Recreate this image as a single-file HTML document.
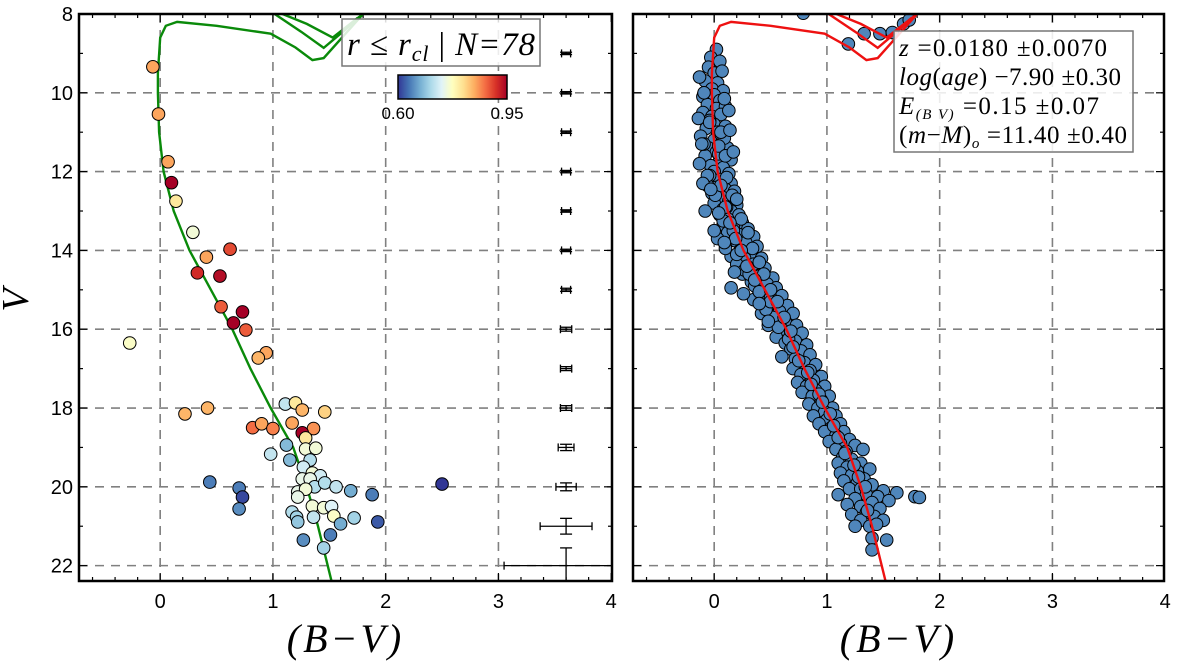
<!DOCTYPE html>
<html><head><meta charset="utf-8"><style>
body{margin:0;background:#fff}
svg{display:block}
text{font-family:"Liberation Sans",sans-serif}
.serif{font-family:"Liberation Serif",serif;font-style:italic}
</style></head><body>
<svg id="chart" width="1200" height="661" viewBox="0 0 1200 661" xmlns="http://www.w3.org/2000/svg">
<defs>
<linearGradient id="cbar" x1="0" x2="1" y1="0" y2="0">
<stop offset="0" stop-color="#313695"/><stop offset="0.1" stop-color="#4575b4"/><stop offset="0.2" stop-color="#74add1"/><stop offset="0.3" stop-color="#abd9e9"/><stop offset="0.4" stop-color="#e0f3f8"/><stop offset="0.5" stop-color="#ffffbf"/><stop offset="0.6" stop-color="#fee090"/><stop offset="0.7" stop-color="#fdae61"/><stop offset="0.8" stop-color="#f46d43"/><stop offset="0.9" stop-color="#d73027"/><stop offset="1" stop-color="#a50026"/>
</linearGradient>
<clipPath id="clipL"><rect x="79" y="14" width="533" height="567"/></clipPath>
<clipPath id="clipR"><rect x="633" y="14" width="531" height="567"/></clipPath>
</defs>
</svg>
<script>
// ---- data ----
const xTicks=[0,1,2,3,4];
const yTicks=[8,10,12,14,16,18,20,22];
const isoMainBV=[1.52,1.40,1.30,1.18,0.98,0.80,0.64,0.45,0.26,0.12,0.03,-0.01,-0.02,-0.02,0.0,0.05,0.15,0.5,0.98,1.2,1.35,1.45,1.8];
const isoMainV=[22.4,21,20,19,18,17,16,15,14,13,12,11,10,9.5,8.6,8.3,8.2,8.3,8.5,8.85,9.17,9.12,8.0];
const iso2BV=[0.71,1.0,1.25,1.45,1.64,1.75];
const iso2V=[7.9,7.97,8.45,8.86,8.4,8.1];
const iso3BV=[1.0,1.3,1.53,1.73,1.8];
const iso3V=[7.9,8.25,8.6,8.15,8.0];
const memBV=[-0.065,-0.015,0.07,0.10,0.14,0.29,0.62,0.41,0.33,0.53,0.54,0.73,0.65,0.76,-0.27,0.94,0.87,0.22,0.42,1.11,1.2,1.26,1.46,0.82,0.9,1.0,1.17,1.36,1.26,1.29,1.12,1.29,1.38,0.98,1.15,1.33,1.27,1.35,1.42,1.26,1.33,1.37,1.46,1.56,1.69,1.88,2.5,0.44,0.7,0.73,0.7,1.22,1.29,1.22,1.35,1.45,1.52,1.54,1.17,1.21,1.22,1.36,1.6,1.72,1.93,1.51,1.27,1.45];
const memV=[9.34,10.54,11.75,12.28,12.75,13.54,13.97,14.17,14.57,14.65,15.43,15.56,15.84,16.02,16.35,16.6,16.73,18.15,18.0,17.9,17.87,18.05,18.1,18.5,18.4,18.52,18.38,18.52,18.63,18.76,18.94,19.04,19.02,19.17,19.32,19.32,19.5,19.65,19.72,19.8,19.8,20.0,19.9,20.0,20.1,20.2,19.93,19.88,20.03,20.26,20.56,20.13,20.06,20.26,20.49,20.53,20.5,20.74,20.64,20.77,20.89,20.77,20.94,20.79,20.89,21.22,21.35,21.55];
const memProb=[0.85,0.85,0.85,0.95,0.80,0.76,0.90,0.85,0.92,0.94,0.89,0.95,0.95,0.89,0.77,0.85,0.84,0.84,0.84,0.72,0.80,0.84,0.82,0.88,0.85,0.87,0.85,0.86,0.95,0.80,0.68,0.76,0.76,0.72,0.68,0.71,0.73,0.76,0.73,0.75,0.75,0.71,0.71,0.72,0.67,0.64,0.60,0.64,0.64,0.61,0.65,0.75,0.76,0.75,0.76,0.76,0.74,0.77,0.71,0.70,0.69,0.72,0.67,0.70,0.62,0.64,0.65,0.70];
const errV=[9,10,11,12,13,14,15,16,17,18,19,20,21,22];
const errXw=[0.04,0.04,0.04,0.04,0.04,0.04,0.04,0.05,0.05,0.05,0.07,0.09,0.23,0.55];
const errYw=[0.03,0.03,0.03,0.03,0.03,0.03,0.04,0.05,0.05,0.06,0.08,0.1,0.2,0.45];
const fieldBV=[0.02,-0.03,0.05,-0.05,0.0,0.07,-0.08,0.03,-0.02,0.08,-0.1,0.0,0.05,-0.06,0.02,0.1,-0.1,-0.02,0.06,0.0,-0.07,0.1,0.03,-0.12,0.0,0.07,-0.05,0.12,0.02,-0.08,0.05,0.15,-0.03,0.08,0.0,0.13,-0.05,0.05,0.15,0.02,0.1,-0.02,0.18,0.07,0.13,0.0,0.2,0.08,0.15,0.05,0.22,0.12,0.25,0.08,0.17,0.3,0.12,0.22,0.35,0.18,0.28,0.1,0.38,0.23,0.33,0.15,0.27,0.42,0.2,0.35,0.3,0.45,0.25,0.4,0.52,0.33,0.47,0.38,0.55,0.15,0.43,0.6,0.5,0.35,0.55,0.47,0.65,0.42,0.58,0.7,0.52,0.63,0.48,0.73,0.6,0.68,0.78,0.55,0.72,0.63,0.82,0.68,0.77,0.6,0.85,0.72,0.8,0.9,0.7,0.85,0.77,0.95,0.88,0.74,0.82,0.98,0.9,0.78,0.87,1.02,0.95,0.84,0.92,1.05,0.98,0.88,1.08,1.0,0.93,1.12,1.04,0.98,1.15,1.08,1.2,1.02,1.12,1.25,1.08,1.17,1.32,1.14,1.22,1.1,1.3,1.18,1.27,1.38,1.12,1.22,1.33,1.15,1.27,1.4,1.2,1.3,1.5,1.62,1.1,1.35,1.45,1.25,1.4,1.55,1.18,1.3,1.47,1.35,1.22,1.42,1.3,1.5,1.25,1.38,1.4,1.53,1.4,1.78,1.82,0.79,1.19,1.33,1.47,1.58,1.68,1.73,-0.04,0.06,-0.09,0.04,0.09,-0.04,0.01,0.11,-0.06,0.08,0.03,0.1,0.17,0.2,0.27,0.31,0.36,0.4,0.46,0.5,0.57,0.66,0.7,0.75,0.83,0.86,0.93,0.96,1.03,1.06,1.1,1.16,1.24,1.28,1.34,1.36,1.44,
-0.13,-0.09,0.09,0.13,-0.14,-0.04,0.06,0.14,-0.11,0.04,0.1,-0.13,0.17,-0.06,0.11,-0.1,0.06,0.16,-0.03,0.2,0.1,-0.08,0.04,0.24,0.14,0.0,0.3,0.19,0.09,0.34,0.24,0.4,0.29,0.18,0.44,0.36,0.5,0.26,0.56,0.4,0.62,0.48,0.68];
const fieldV=[8.9,9.1,9.2,9.35,9.5,9.45,9.7,9.75,9.9,9.95,10.1,10.05,10.2,10.3,10.4,10.35,10.5,10.6,10.55,10.8,10.9,10.85,11.0,11.1,11.2,11.25,11.4,11.4,11.5,11.6,11.7,11.7,11.85,11.9,12.0,12.05,12.2,12.2,12.3,12.4,12.45,12.55,12.5,12.65,12.75,12.8,12.85,12.95,13.0,13.1,13.1,13.2,13.3,13.35,13.4,13.45,13.55,13.6,13.65,13.75,13.8,13.85,13.9,14.0,14.05,14.15,14.2,14.2,14.35,14.35,14.5,14.45,14.6,14.65,14.7,14.8,14.85,14.95,14.95,14.95,15.1,15.15,15.2,15.25,15.35,15.45,15.4,15.6,15.55,15.6,15.7,15.8,15.9,15.9,16.0,16.1,16.1,16.2,16.3,16.35,16.4,16.5,16.55,16.7,16.65,16.75,16.85,16.9,17.0,17.05,17.15,17.2,17.3,17.35,17.45,17.45,17.55,17.6,17.7,17.7,17.8,17.9,18.0,18.0,18.1,18.2,18.2,18.3,18.4,18.4,18.5,18.6,18.6,18.7,18.8,18.85,18.9,18.95,19.05,19.1,19.05,19.25,19.3,19.4,19.4,19.5,19.6,19.55,19.65,19.7,19.8,19.85,19.9,19.95,20.05,20.05,20.1,20.15,20.2,20.2,20.25,20.3,20.4,20.35,20.45,20.5,20.55,20.65,20.7,20.75,20.85,20.85,21.0,21.0,21.3,21.35,21.6,20.25,20.27,7.98,8.76,8.5,8.5,8.47,8.25,8.15,10.7,11.05,11.3,11.55,11.15,12.1,12.6,12.9,12.35,13.25,13.7,13.95,13.5,14.1,14.5,14.6,14.9,15.05,15.5,15.3,15.95,16.25,16.45,16.8,17.1,17.4,17.65,17.85,18.15,18.45,18.75,19.15,19.45,19.75,20.0,20.6,20.95,
9.6,10.0,10.15,10.45,10.65,10.75,11.0,10.95,11.3,11.35,11.6,11.8,11.5,12.1,12.15,12.3,12.35,12.6,12.45,12.7,12.9,13.0,13.05,13.2,13.3,13.5,13.55,13.7,13.8,13.95,14.0,14.3,14.4,14.55,14.6,14.75,15.0,15.1,15.3,15.35,15.7,15.8,16.05];

// ---- helpers ----
const NS='http://www.w3.org/2000/svg';
const svg=document.getElementById('chart');
function mk(tag,attrs,parent){const e=document.createElementNS(NS,tag);for(const k in attrs)e.setAttribute(k,attrs[k]);(parent||svg).appendChild(e);return e;}
const Y0=14,Y1=581,VMIN=8,VMAX=22.39;
function yS(v){return Y0+(v-VMIN)/(VMAX-VMIN)*(Y1-Y0);}
function makeX(left){return b=>left+(b+0.72)*112.75;}
const cols=[[49,54,149],[69,117,180],[116,173,209],[171,217,233],[224,243,248],[255,255,191],[254,224,144],[253,174,97],[244,109,67],[215,48,39],[165,0,38]];
function cmap(p){let t=Math.max(0,Math.min(1,(p-0.6)/0.35))*10;let i=Math.min(9,Math.floor(t));let f=t-i;const a=cols[i],b=cols[i+1];return 'rgb('+a.map((c,k)=>Math.round(c+(b[k]-c)*f)).join(',')+')';}

function panel(left,right,name,showY){
  const xS=makeX(left);
  const g=mk('g',{});
  
  
  xTicks.forEach(t=>{const x=xS(t);if(x>left+2&&x<right-2){const l=mk('line',{x1:x,x2:x,y1:Y0,y2:Y1,stroke:'#808080','stroke-width':1.6,'stroke-dasharray':'9,7'},g);}});
  yTicks.forEach(t=>{const y=yS(t);const l=mk('line',{x1:left,x2:right,y1:y,y2:y,stroke:'#808080','stroke-width':1.6,'stroke-dasharray':'9,7'},g);});
  for(let v=-0.6;v<=4.001;v+=0.2){const x=xS(v);if(x<=left||x>=right)continue;const major=Math.abs(v-Math.round(v))<1e-6;const L=major?8:4;
    mk('line',{x1:x,x2:x,y1:Y1,y2:Y1-L,stroke:'#000','stroke-width':1.2},g);mk('line',{x1:x,x2:x,y1:Y0,y2:Y0+L,stroke:'#000','stroke-width':1.2},g);}
  for(let v=8;v<=22;v++){const y=yS(v);const L=v%2==0?8:4;mk('line',{x1:left,x2:left+L,y1:y,y2:y,stroke:'#000','stroke-width':1.2},g);mk('line',{x1:right,x2:right-L,y1:y,y2:y,stroke:'#000','stroke-width':1.2},g);}
  xTicks.forEach(t=>{const tx=mk('text',{x:xS(t),y:608,'font-size':20,'text-anchor':'middle'},g);tx.textContent=String(t);});
  if(showY)yTicks.forEach(t=>{const tx=mk('text',{x:left-6,y:yS(t)+7,'font-size':20,'text-anchor':'end'},g);tx.textContent=String(t);});
  const xl=mk('text',{x:(left+right)/2,y:652,'font-size':40,'text-anchor':'middle',class:'serif','letter-spacing':'3'},g);
  xl.textContent='(B−V)';
  
  
  return {g,xS,left,right};
}
function pathOf(xs,ys,xS){return xs.map((b,i)=>(i?'L':'M')+xS(b).toFixed(1)+','+yS(ys[i]).toFixed(1)).join(' ');}
function frame(p,name){const r=mk('rect',{x:p.left,y:Y0,width:p.right-p.left,height:Y1-Y0,fill:'none',stroke:'#000','stroke-width':2.5},p.g);}

// ---- left panel ----
const L=panel(79,612,'left-panel',true);
const cl=mk('g',{'clip-path':'url(#clipL)'},L.g);
[[isoMainBV,isoMainV],[iso2BV,iso2V],[iso3BV,iso3V]].forEach(([a,b])=>{const p=mk('path',{d:pathOf(a,b,L.xS),fill:'none',stroke:'#0a8a0a','stroke-width':2.4},cl);});
memBV.forEach((b,i)=>{const c=mk('circle',{cx:L.xS(b),cy:yS(memV[i]),r:6.3,fill:cmap(memProb[i]),stroke:'#000','stroke-width':1},cl);});
errV.forEach((v,i)=>{const x=L.xS(3.6),y=yS(v);const x1=L.xS(3.6-errXw[i]),x2=L.xS(3.6+errXw[i]);const y1=yS(v-errYw[i]),y2=yS(v+errYw[i]);
  const e=mk('g',{stroke:'#000','stroke-width':1.3},cl);
  mk('line',{x1:x1,x2:x2,y1:y,y2:y},e);mk('line',{x1:x,x2:x,y1:y1,y2:y2},e);
  mk('line',{x1:x1,x2:x1,y1:y-4,y2:y+4},e);mk('line',{x1:x2,x2:x2,y1:y-4,y2:y+4},e);
  mk('line',{x1:x-6,x2:x+6,y1:y1,y2:y1},e);mk('line',{x1:x-6,x2:x+6,y1:y2,y2:y2},e);});
frame(L,'left-axes-frame');
const yl=mk('text',{x:28,y:300,'font-size':38,'text-anchor':'middle',class:'serif',transform:'rotate(-90 28 300)'});
yl.textContent='V';


const lg=mk('g',{});


mk('rect',{x:342,y:19,width:198,height:47,fill:'#fff','fill-opacity':0.85,stroke:'#777','stroke-width':1.5},lg);
const lt=mk('text',{x:441,y:55,'font-size':33,'text-anchor':'middle',class:'serif','textLength':188,'lengthAdjust':'spacing'},lg);
lt.innerHTML='r ≤ r<tspan font-size="22" dy="6">cl</tspan><tspan dy="-6" font-style="normal"> | </tspan>N=78';
const cb=mk('rect',{x:398,y:75,width:109,height:24,fill:'url(#cbar)',stroke:'#000','stroke-width':1.5});


[['0.60',398],['0.95',507]].forEach(([s,x])=>{const t=mk('text',{x:x,y:119,'font-size':17,'text-anchor':'middle'});t.textContent=s;});

// ---- right panel ----
const R=panel(633,1164,'right-panel',false);
const cr=mk('g',{'clip-path':'url(#clipR)'},R.g);
fieldBV.forEach((b,i)=>{const c=mk('circle',{cx:R.xS(b),cy:yS(fieldV[i]),r:6.3,fill:'#4f86bb',stroke:'#000','stroke-width':1},cr);});
[[isoMainBV,isoMainV],[iso2BV,iso2V],[iso3BV,iso3V]].forEach(([a,b])=>{const p=mk('path',{d:pathOf(a,b,R.xS),fill:'none',stroke:'#ee1111','stroke-width':2.4},cr);});
frame(R,'right-axes-frame');
const pb=mk('g',{});


mk('rect',{x:894,y:31,width:239,height:121,fill:'#fff','fill-opacity':0.85,stroke:'#777','stroke-width':1.5},pb);
const lines=['<tspan class="serif">z</tspan> =0.0180 ±0.0070','<tspan class="serif">log</tspan>(<tspan class="serif">age</tspan>) −7.90 ±0.30','<tspan class="serif">E</tspan><tspan font-size="15" dy="5" class="serif">(B  V)</tspan><tspan dy="-5"> =0.15 ±0.07</tspan>','(<tspan class="serif">m</tspan>−<tspan class="serif">M</tspan>)<tspan font-size="15" dy="5" class="serif">o</tspan><tspan dy="-5"> =11.40 ±0.40</tspan>'];
const lens=[208,222,200,228];
lines.forEach((s,i)=>{const t=mk('text',{x:899,y:56+i*29,'font-size':25,style:'font-family:"Liberation Serif",serif',textLength:lens[i],lengthAdjust:'spacing'},pb);t.innerHTML=s;});
</script>
</body></html>
